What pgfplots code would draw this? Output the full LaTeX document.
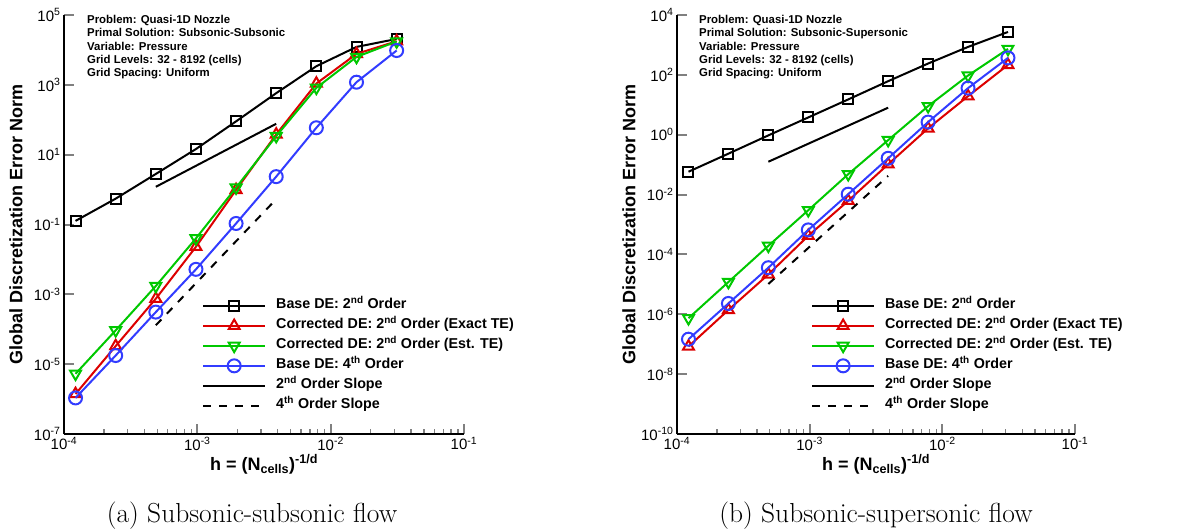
\documentclass[border=0pt]{standalone}
\usepackage{pgfplots}
\pgfplotsset{compat=1.18}
\usepackage{fontspec}
\newfontfamily\arial{Liberation Sans}
\definecolor{tred}{RGB}{220,0,0}
\definecolor{tgreen}{RGB}{0,200,0}
\definecolor{tblue}{RGB}{50,60,255}
\begin{document}
\begin{tikzpicture}
\useasboundingbox (0,0) rectangle (1204pt,531pt);
% ---------------- (a) ----------------
\begin{axis}[
    scale only axis, width=400pt, height=419pt,
    at={(64pt,97pt)}, anchor=south west,
    clip mode=individual,
    xmode=log, ymode=log,
    xmin=1e-4, xmax=1e-1,
    ymin=1e-7, ymax=1e5,
    axis x line*=bottom, axis y line*=left,
    tick pos=left, tick align=inside,
    axis line style={line width=2.5pt},
    major tick length=10pt, minor tick length=5pt,
    every major tick/.append style={line width=2pt},
    every minor tick/.append style={line width=1.3pt},
    yminorticks=false,
    xtick={1e-4,1e-3,1e-2,1e-1},
    xticklabels={10\textsuperscript{-4},10\textsuperscript{-3},10\textsuperscript{-2},10\textsuperscript{-1}},
    ytick={1e-7,1e-5,1e-3,1e-1,1e1,1e3,1e5},
    yticklabels={10\textsuperscript{-7},10\textsuperscript{-5},10\textsuperscript{-3},10\textsuperscript{-1},10\textsuperscript{1},10\textsuperscript{3},10\textsuperscript{5}},
    tick label style={font=\arial\fontsize{15}{18}\selectfont},
    xlabel={h = (N\textsubscript{cells})\textsuperscript{-1/d}},
    ylabel={Global Discretization Error Norm},
    xlabel style={at={(axis description cs:0.5,0)}, yshift=-36pt, anchor=base, font=\arial\bfseries\fontsize{18}{22}\selectfont},
    ylabel style={at={(axis description cs:-0.12,0.5)}, anchor=center, font=\arial\bfseries\fontsize{18}{22}\selectfont},
    legend cell align=left,
    legend style={draw=none, fill=none, anchor=north west, at={(axis description cs:0.3375,0.335)},
      font=\arial\bfseries\fontsize{14.3}{17}\selectfont,
      nodes={inner sep=1pt, text height=12pt, text depth=6pt}},
    legend image code/.code={\draw[mark repeat=2,mark phase=2] plot coordinates {(0pt,0pt) (31pt,0pt) (62pt,0pt)}; \path (71pt,0pt);},
]
\addplot[black, line width=2pt, mark=square, mark size=5pt, mark options={solid, fill=white}] coordinates {(1.220703e-4,0.127) (2.441406e-4,0.55) (4.882813e-4,2.8) (9.765625e-4,14.5) (1.953125e-3,90) (3.90625e-3,578) (7.8125e-3,3415) (1.5625e-2,12190) (3.125e-2,20600)};
\addlegendentry{Base DE: 2\textsuperscript{nd} Order}
\addplot[tred, line width=2pt, mark=triangle, mark size=6.3pt, mark options={solid, fill=white}] coordinates {(1.220703e-4,1.4e-6) (2.441406e-4,3.3e-5) (4.882813e-4,7.5e-4) (9.765625e-4,0.023) (1.953125e-3,0.98) (3.90625e-3,38) (7.8125e-3,1090) (1.5625e-2,7700) (3.125e-2,17700)};
\addlegendentry{Corrected DE: 2\textsuperscript{nd} Order (Exact TE)}
\addplot[tgreen, line width=2pt, mark=triangle, mark size=6.3pt, mark options={solid, fill=white, rotate=180}] coordinates {(1.220703e-4,5.3e-6) (2.441406e-4,9.3e-5) (4.882813e-4,1.73e-3) (9.765625e-4,0.04) (1.953125e-3,1.14) (3.90625e-3,34) (7.8125e-3,820) (1.5625e-2,6300) (3.125e-2,17500)};
\addlegendentry{Corrected DE: 2\textsuperscript{nd} Order (Est. TE)}
\addplot[tblue, line width=2pt, mark=o, mark size=6.5pt, mark options={solid, fill=white}] coordinates {(1.220703e-4,1.08e-6) (2.441406e-4,1.77e-5) (4.882813e-4,3.1e-4) (9.765625e-4,5.2e-3) (1.953125e-3,0.107) (3.90625e-3,2.35) (7.8125e-3,59) (1.5625e-2,1190) (3.125e-2,9600)};
\addlegendentry{Base DE: 4\textsuperscript{th} Order}
\addplot[black, line width=2pt, no marks] coordinates {(4.882813e-4,1.2) (3.90625e-3,76.8)};
\addlegendentry{2\textsuperscript{nd} Order Slope}
\addplot[black, line width=2pt, no marks, dash pattern=on 8pt off 8pt] coordinates {(4.882813e-4,1.3e-4) (3.90625e-3,0.532)};
\addlegendentry{4\textsuperscript{th} Order Slope}
\node[anchor=north west, align=left, inner sep=0pt, xshift=23pt, yshift=0pt, font=\arial\bfseries\fontsize{11.4}{13.3}\selectfont]
  at (axis description cs:0,1)
  {Problem: Quasi-1D Nozzle\\Primal Solution: Subsonic-Subsonic\\Variable: Pressure\\Grid Levels: 32 - 8192 (cells)\\Grid Spacing: Uniform};
\node[anchor=base, xshift=-12pt, yshift=-88pt, font=\fontsize{27.5}{32}\selectfont] at (axis description cs:0.5,0) {(a) Subsonic-subsonic flow};
\end{axis}
% ---------------- (b) ----------------
\begin{axis}[
    scale only axis, width=398pt, height=419pt,
    at={(677pt,97pt)}, anchor=south west,
    clip mode=individual,
    xmode=log, ymode=log,
    xmin=1e-4, xmax=1e-1,
    ymin=1e-10, ymax=1e4,
    axis x line*=bottom, axis y line*=left,
    tick pos=left, tick align=inside,
    axis line style={line width=2.5pt},
    major tick length=10pt, minor tick length=5pt,
    every major tick/.append style={line width=2pt},
    every minor tick/.append style={line width=1.3pt},
    yminorticks=false,
    xtick={1e-4,1e-3,1e-2,1e-1},
    xticklabels={10\textsuperscript{-4},10\textsuperscript{-3},10\textsuperscript{-2},10\textsuperscript{-1}},
    ytick={1e-10,1e-8,1e-6,1e-4,1e-2,1e0,1e2,1e4},
    yticklabels={10\textsuperscript{-10},10\textsuperscript{-8},10\textsuperscript{-6},10\textsuperscript{-4},10\textsuperscript{-2},10\textsuperscript{0},10\textsuperscript{2},10\textsuperscript{4}},
    tick label style={font=\arial\fontsize{15}{18}\selectfont},
    xlabel={h = (N\textsubscript{cells})\textsuperscript{-1/d}},
    ylabel={Global Discretization Error Norm},
    xlabel style={at={(axis description cs:0.5,0)}, yshift=-36pt, anchor=base, font=\arial\bfseries\fontsize{18}{22}\selectfont},
    ylabel style={at={(axis description cs:-0.1206,0.5)}, anchor=center, font=\arial\bfseries\fontsize{18}{22}\selectfont},
    legend cell align=left,
    legend style={draw=none, fill=none, anchor=north west, at={(axis description cs:0.329,0.335)},
      font=\arial\bfseries\fontsize{14.3}{17}\selectfont,
      nodes={inner sep=1pt, text height=12pt, text depth=6pt}},
    legend image code/.code={\draw[mark repeat=2,mark phase=2] plot coordinates {(0pt,0pt) (31pt,0pt) (62pt,0pt)}; \path (71pt,0pt);},
]
\addplot[black, line width=2pt, mark=square, mark size=5pt, mark options={solid, fill=white}] coordinates {(1.220703e-4,0.058) (2.441406e-4,0.233) (4.882813e-4,0.95) (9.765625e-4,3.78) (1.953125e-3,15.1) (3.90625e-3,61.5) (7.8125e-3,239) (1.5625e-2,858) (3.125e-2,2714)};
\addlegendentry{Base DE: 2\textsuperscript{nd} Order}
\addplot[tred, line width=2pt, mark=triangle, mark size=6.3pt, mark options={solid, fill=white}] coordinates {(1.220703e-4,8.4e-8) (2.441406e-4,1.4e-6) (4.882813e-4,2.15e-5) (9.765625e-4,4.2e-4) (1.953125e-3,6.2e-3) (3.90625e-3,0.103) (7.8125e-3,1.63) (1.5625e-2,19.4) (3.125e-2,215)};
\addlegendentry{Corrected DE: 2\textsuperscript{nd} Order (Exact TE)}
\addplot[tgreen, line width=2pt, mark=triangle, mark size=6.3pt, mark options={solid, fill=white, rotate=180}] coordinates {(1.220703e-4,7.4e-7) (2.441406e-4,1.2e-5) (4.882813e-4,1.94e-4) (9.765625e-4,3.0e-3) (1.953125e-3,0.048) (3.90625e-3,0.66) (7.8125e-3,9.0) (1.5625e-2,95) (3.125e-2,736)};
\addlegendentry{Corrected DE: 2\textsuperscript{nd} Order (Est. TE)}
\addplot[tblue, line width=2pt, mark=o, mark size=6.5pt, mark options={solid, fill=white}] coordinates {(1.220703e-4,1.47e-7) (2.441406e-4,2.3e-6) (4.882813e-4,3.6e-5) (9.765625e-4,6.6e-4) (1.953125e-3,0.0103) (3.90625e-3,0.163) (7.8125e-3,2.64) (1.5625e-2,36) (3.125e-2,369)};
\addlegendentry{Base DE: 4\textsuperscript{th} Order}
\addplot[black, line width=2pt, no marks] coordinates {(4.882813e-4,0.125) (3.90625e-3,8)};
\addlegendentry{2\textsuperscript{nd} Order Slope}
\addplot[black, line width=2pt, no marks, dash pattern=on 8pt off 8pt] coordinates {(4.882813e-4,1.03e-5) (3.90625e-3,0.042)};
\addlegendentry{4\textsuperscript{th} Order Slope}
\node[anchor=north west, align=left, inner sep=0pt, xshift=22pt, yshift=0pt, font=\arial\bfseries\fontsize{11.4}{13.3}\selectfont]
  at (axis description cs:0,1)
  {Problem: Quasi-1D Nozzle\\Primal Solution: Subsonic-Supersonic\\Variable: Pressure\\Grid Levels: 32 - 8192 (cells)\\Grid Spacing: Uniform};
\node[anchor=base, yshift=-88pt, font=\fontsize{27.5}{32}\selectfont] at (axis description cs:0.5,0) {(b) Subsonic-supersonic flow};
\end{axis}
\end{tikzpicture}
\end{document}
